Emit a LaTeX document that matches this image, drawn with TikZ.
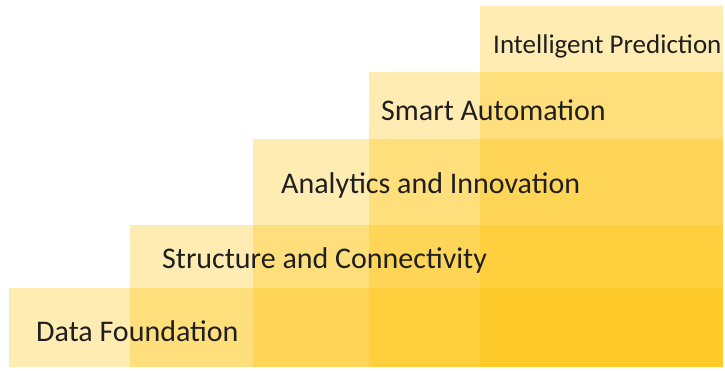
\documentclass[tikz,border=0pt]{standalone}
\usepackage{fontspec}
\setmainfont{Carlito}
\usepackage{tikz}
\usetikzlibrary{positioning}
\definecolor{stepGold}{RGB}{255,192,0}
\colorlet{stepInk}{black!88}

\tikzset{
  stepblock/.style={fill=stepGold, fill opacity=0.3},
  steptext/.style={anchor=base west, inner sep=0pt, text=stepInk, font=\fontsize{30}{36}\selectfont},
}

\begin{document}
\begin{tikzpicture}[x=1pt, y=-1pt]
      \useasboundingbox (0,0) rectangle (725,370);
      \def\edgeR{723}
      \def\edgeB{367}

      % Stair blocks -- every block runs to the right and bottom edge
      \foreach \l/\t in {9/288, 130/225, 253/139, 369/72, 480/6}
        \fill[stepblock] (\l,\t) rectangle (\edgeR,\edgeB);

      % Step labels
      \node[steptext] (found) at (36,341) {Data Foundation};
      \node[steptext] (struct) at (162,268) {Structure and Connectivity};
      \node[steptext] (analyt) at (281,193) {Analytics and Innovation};
      \node[steptext] (automat) at (381,120) {Smart Automation};
      \node[steptext, font=\fontsize{27}{32}\selectfont] (predict) at (493,53) {Intelligent Prediction};
\end{tikzpicture}
\end{document}
